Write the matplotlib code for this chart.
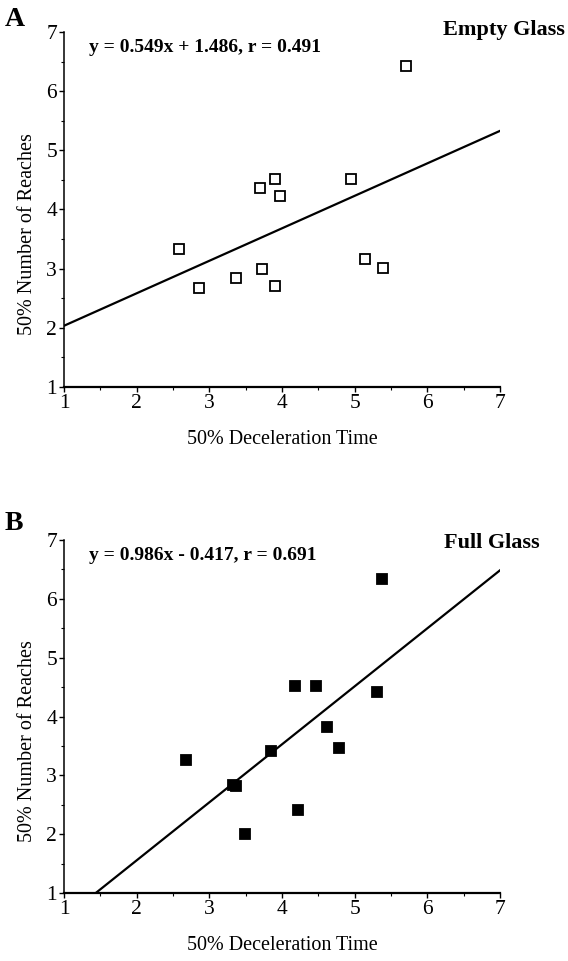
import matplotlib
matplotlib.use("Agg")
import matplotlib.pyplot as plt
import numpy as np

plt.rcParams['font.family'] = ['Liberation Serif', 'DejaVu Serif']

# panel A - empty glass
empty_x = [2.58, 2.855, 3.37, 3.70, 3.725, 3.905, 3.91, 3.97, 4.95, 5.145, 5.385, 5.70]
empty_y = [3.33, 2.68, 2.84, 4.37, 3.00, 2.70, 4.51, 4.23, 4.51, 3.17, 3.01, 6.42]
empty_fit = [0.549, 1.486]  # slope, intercept

# panel B - full glass
full_x = [2.685, 3.33, 3.37, 3.485, 3.855, 4.18, 4.22, 4.47, 4.62, 4.79, 5.31, 5.375]
full_y = [3.26, 2.84, 2.82, 2.00, 3.41, 4.51, 2.41, 4.51, 3.83, 3.47, 4.41, 6.34]
full_fit = [0.986, -0.417]

ticks = [1, 2, 3, 4, 5, 6, 7]

fig = plt.figure(figsize=(5.68, 9.61), dpi=100)
W, H = 568, 961


def make_panel(rect, xs, ys, fit, filled, eq):
    ax = fig.add_axes(rect)
    fx = np.array([1, 7])
    ax.plot(fx, fit[0] * fx + fit[1], color='black', lw=1.6)
    ax.plot(xs, ys, linestyle='none', marker='s', markersize=7.5,
            markerfacecolor='black' if filled else 'white',
            markeredgecolor='black', markeredgewidth=1.3, clip_on=False)
    ax.set_xlim(1, 7)
    ax.set_ylim(1, 7)
    ax.set_xticks(ticks)
    ax.set_yticks(ticks)
    ax.set_xticks(np.arange(1.5, 7, 1), minor=True)
    ax.set_yticks(np.arange(1.5, 7, 1), minor=True)
    ax.tick_params(which='major', direction='out', length=3.5, width=1.0,
                   labelsize=15.5, pad=1.5)
    ax.tick_params(which='minor', direction='out', length=2.2, width=0.8)
    for s in ['top', 'right']:
        ax.spines[s].set_visible(False)
    ax.spines['left'].set_linewidth(1.1)
    ax.spines['bottom'].set_linewidth(1.6)
    ax.set_xlabel('50% Deceleration Time', fontsize=14.5, labelpad=12)
    ax.set_ylabel('50% Number of Reaches', fontsize=14.5)
    ax.yaxis.set_label_coords(-0.062, 0.43)
    ax.text(0.057, 0.955, eq, transform=ax.transAxes, fontsize=14,
            fontweight='bold', va='center', ha='left')
    return ax


ax1 = make_panel([64 / W, 1 - 387 / H, 436 / W, 355 / H], empty_x, empty_y,
                 empty_fit, False, 'y = 0.549x + 1.486, r = 0.491')
ax2 = make_panel([64 / W, 1 - 893 / H, 436 / W, 353 / H], full_x, full_y,
                 full_fit, True, 'y = 0.986x - 0.417, r = 0.691')

fig.text(5 / W, 1 - 19 / H, 'A', fontsize=20, fontweight='bold', va='center', ha='left')
fig.text(565 / W, 1 - 30 / H, 'Empty Glass', fontsize=16, fontweight='bold', va='center', ha='right')
fig.text(5 / W, 1 - 523 / H, 'B', fontsize=20, fontweight='bold', va='center', ha='left')
fig.text(540 / W, 1 - 543 / H, 'Full Glass', fontsize=16, fontweight='bold', va='center', ha='right')

fig.savefig('out.png', dpi=100)
